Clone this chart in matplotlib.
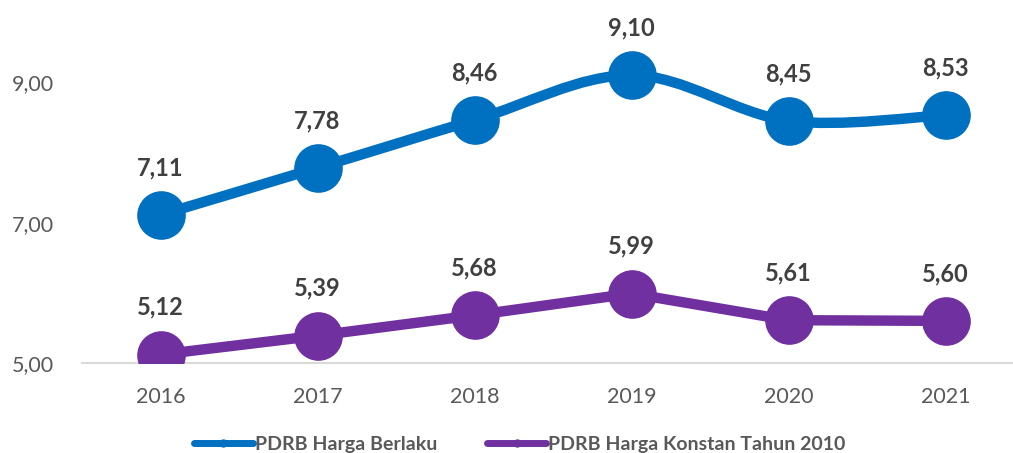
import matplotlib.pyplot as plt
from matplotlib.path import Path
from matplotlib.patches import PathPatch
from matplotlib.lines import Line2D

plt.rcParams['font.family'] = ['Lato', 'DejaVu Sans']

years = ['2016', '2017', '2018', '2019', '2020', '2021']
berlaku = [7.11, 7.78, 8.46, 9.10, 8.45, 8.53]
konstan = [5.12, 5.39, 5.68, 5.99, 5.61, 5.60]

blue = '#0070C0'
purple = '#7030A0'


def smooth_path(xs, ys):
    # excel-like smoothed line: cubic bezier with catmull-rom control points
    pts = list(zip(xs, ys))
    verts = [pts[0]]
    codes = [Path.MOVETO]
    n = len(pts)
    for i in range(n - 1):
        p0 = pts[max(i - 1, 0)]
        p1 = pts[i]
        p2 = pts[i + 1]
        p3 = pts[min(i + 2, n - 1)]
        c1 = (p1[0] + (p2[0] - p0[0]) / 6, p1[1] + (p2[1] - p0[1]) / 6)
        c2 = (p2[0] - (p3[0] - p1[0]) / 6, p2[1] - (p3[1] - p1[1]) / 6)
        verts += [c1, c2, p2]
        codes += [Path.CURVE4] * 3
    return Path(verts, codes)


fig = plt.figure(figsize=(10.13, 4.53), dpi=100)
ax = fig.add_axes([82 / 1013, 90 / 453, 942 / 1013, 351 / 453])

x = list(range(len(years)))

patch = PathPatch(smooth_path(x, berlaku), facecolor='none', edgecolor=blue,
                  lw=7.5, capstyle='round', joinstyle='round', zorder=3)
ax.add_patch(patch)
ax.plot(x, berlaku, linestyle='none', marker='o', ms=34, color=blue, zorder=4)

ax.plot(x, konstan, color=purple, lw=7.5, marker='o', ms=34,
        solid_capstyle='round', zorder=4)

for xi, v in zip(x, berlaku):
    ax.annotate(f'{v:.2f}'.replace('.', ','), (xi, v), xytext=(0, 34),
                textcoords='offset points', ha='center', va='center',
                fontsize=17, fontweight='bold', color='#404040')
for xi, v in zip(x, konstan):
    ax.annotate(f'{v:.2f}'.replace('.', ','), (xi, v), xytext=(0, 34),
                textcoords='offset points', ha='center', va='center',
                fontsize=17, fontweight='bold', color='#404040')

ax.set_xlim(-0.5, 5.5)
ax.set_ylim(5, 10)
ax.set_xticks(x)
ax.set_xticklabels(years)
ax.set_yticks([5, 7, 9])
ax.set_yticklabels(['5,00', '7,00', '9,00'])
ax.tick_params(axis='both', length=0, labelsize=15.5, labelcolor='#595959')
ax.tick_params(axis='x', pad=17)
ax.tick_params(axis='y', pad=20)
for s in ['top', 'right', 'left']:
    ax.spines[s].set_visible(False)
ax.spines['bottom'].set_color('#D9D9D9')
ax.spines['bottom'].set_linewidth(1.5)
ax.spines['bottom'].set_zorder(1)

handles = [
    Line2D([], [], color=blue, lw=5, marker='o', ms=5, solid_capstyle='round'),
    Line2D([], [], color=purple, lw=5, marker='o', ms=5, solid_capstyle='round'),
]
fig.legend(handles, ['PDRB Harga Berlaku', 'PDRB Harga Konstan Tahun 2010'],
           loc='center', bbox_to_anchor=(0.513, 0.019), ncol=2, frameon=False,
           handlelength=3.0, handletextpad=0.1, columnspacing=2.6,
           prop={'size': 14, 'weight': 'bold'}, labelcolor='#595959')

fig.savefig('out.png', dpi=100)
